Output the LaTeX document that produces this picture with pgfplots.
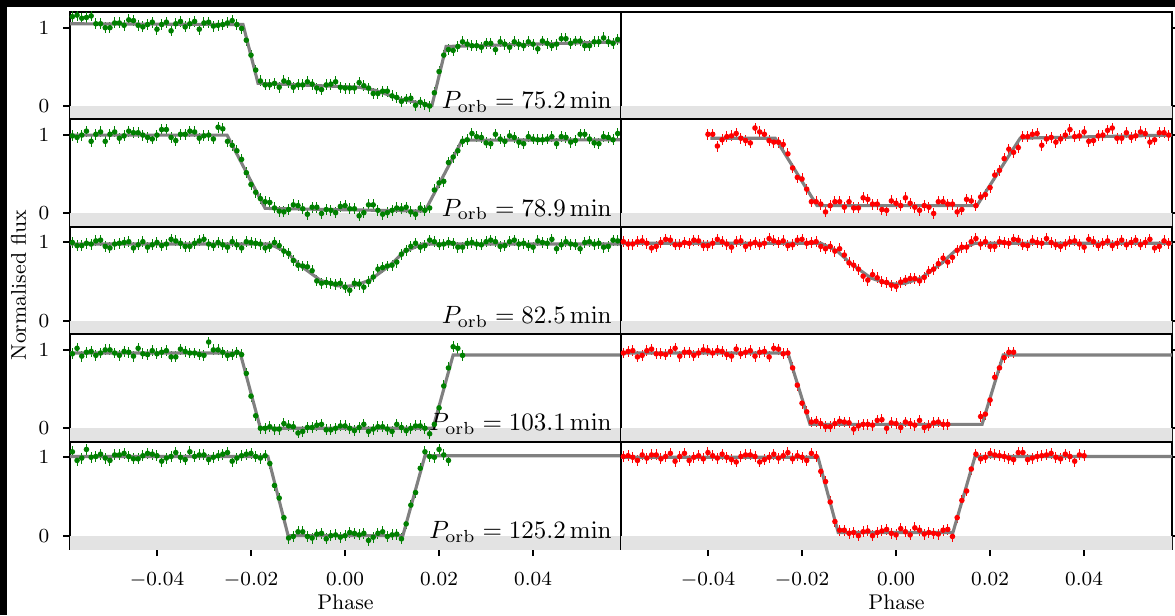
\documentclass[border=0pt]{standalone}
\usepackage{pgfplots}
\pgfplotsset{compat=1.18}
\usepackage{pgfplotstable}

% phase-folded light curves, one column per panel (nan = no data)
% A-E: left column (rows 1-5), F-I: right column (rows 2-5)
\pgfplotstableread{
x       A     B     C     D     E     F     G     H     I
-0.058  1.14  0.99  1.00  0.95  1.07  nan   1.01  0.96  1.01
-0.056  1.12  1.00  0.96  0.92  0.99  nan   0.98  0.99  1.00
-0.054  1.15  0.92  0.98  0.98  1.00  nan   1.02  0.93  1.03
-0.052  1.05  1.04  1.03  0.96  1.04  nan   0.93  1.01  1.03
-0.050  1.00  1.01  0.93  1.00  0.96  nan   1.00  0.95  0.98
-0.048  1.06  0.96  0.99  0.93  1.03  nan   1.03  0.98  1.05
-0.046  1.10  1.05  1.01  0.97  1.01  nan   0.97  0.92  1.01
-0.044  1.03  1.03  0.97  1.02  0.98  nan   0.99  0.97  0.96
-0.042  1.04  0.97  0.94  0.94  1.05  nan   1.02  0.96  1.02
-0.040  0.98  1.00  1.00  0.95  1.02  1.01  0.96  0.99  1.06
-0.038  1.07  1.07  0.98  0.99  0.99  0.86  1.04  0.99  0.99
-0.036  1.05  0.93  1.02  0.91  1.06  0.98  0.98  0.94  1.00
-0.034  1.01  1.01  0.95  0.98  0.97  1.02  1.01  1.01  0.94
-0.032  1.08  1.04  0.99  0.96  1.01  0.93  0.95  0.97  1.03
-0.030  1.06  0.99  1.04  0.93  1.03  1.09  1.00  0.92  1.01
-0.028  1.02  0.95  0.96  1.00  1.00  1.01  0.99  0.98  0.97
-0.026  1.04  1.08  0.97  0.97  1.04  0.91  1.02  1.02  1.04
-0.024  1.09  0.87  1.01  0.94  0.95  0.88  1.02  0.95  1.02
-0.022  0.99  0.69  0.93  0.94  1.02  0.58  0.97  0.77  0.98
-0.020  0.65  0.37  1.00  0.41  1.05  0.44  1.04  0.32  1.00
-0.018  0.32  0.19  0.98  0.00  0.99  0.15  1.00  0.08  1.05
-0.016  0.27  0.14  0.95  0.02  0.92  0.12  0.95  0.06  0.82
-0.014  0.24  0.03  0.96  -0.01 0.48  0.10  0.95  0.02  0.43
-0.012  0.30  0.05  0.86  0.03  -0.03 0.15  0.92  0.09  0.07
-0.010  0.27  0.10  0.71  -0.06 0.05  0.15  0.74  0.07  0.03
-0.008  0.31  -0.01 0.69  0.01  -0.01 0.07  0.66  0.03  0.00
-0.006  0.23  0.08  0.51  0.04  0.02  0.18  0.52  0.05  0.06
-0.004  0.27  0.05  0.49  -0.02 -0.04 0.12  0.55  0.10  0.04
-0.002  0.31  0.01  0.47  0.00  0.01  0.04  0.49  0.00  0.08
0.000   0.23  0.10  0.43  0.03  0.00  0.13  0.44  0.06  0.01
0.002   0.23  0.06  0.48  -0.03 0.03  0.20  0.52  0.08  0.05
0.004   0.26  0.01  0.43  0.05  0.03  0.08  0.54  0.04  0.10
0.006   0.16  0.11  0.56  -0.01 -0.02 0.10  0.555 0.01  0.02
0.008   0.19  -0.01 0.68  0.02  0.05  0.00  0.66  0.07  0.03
0.010   0.13  0.04  0.71  -0.04 0.01  0.15  0.80  0.05  0.07
0.012   0.06  0.06  0.85  0.01  -0.04 0.12  0.81  nan   -0.01
0.014   0.10  0.02  0.95  0.00  0.39  0.05  0.94  nan   0.45
0.016   0.05  0.07  0.94  0.03  0.86  0.16  1.01  nan   0.85
0.018   0.00  0.07  1.03  -0.07 1.01  0.21  0.98  0.15  0.98
0.020   0.44  0.39  0.97  0.26  1.10  0.33  0.95  0.36  1.05
0.022   0.72  0.65  1.00  0.77  0.96  0.55  1.01  0.77  1.02
0.024   0.76  0.80  0.94  1.02  nan   0.82  0.99  0.97  0.99
0.026   0.79  0.94  0.99  nan   nan   0.84  1.03  nan   1.06
0.028   0.77  0.98  0.98  nan   nan   0.98  0.96  nan   0.97
0.030   0.80  0.90  1.01  nan   nan   1.02  1.00  nan   1.01
0.032   0.72  1.01  1.01  nan   nan   0.95  1.05  nan   1.03
0.034   0.79  0.92  0.96  nan   nan   0.91  0.97  nan   1.00
0.036   0.82  0.97  1.03  nan   nan   1.00  0.98  nan   1.04
0.038   0.77  0.89  0.99  nan   nan   0.98  1.02  nan   0.95
0.040   0.79  0.95  0.94  nan   nan   1.04  0.94  nan   1.02
0.042   0.83  0.94  1.00  nan   nan   0.93  1.01  nan   nan
0.044   0.77  0.98  1.04  nan   nan   1.00  0.99  nan   nan
0.046   0.86  0.98  0.97  nan   nan   1.09  0.96  nan   nan
0.048   0.80  0.91  0.98  nan   nan   0.96  1.03  nan   nan
0.050   0.83  1.01  0.92  nan   nan   0.97  1.00  nan   nan
0.052   0.77  0.95  1.01  nan   nan   1.04  0.97  nan   nan
0.054   0.82  0.89  0.99  nan   nan   0.91  1.04  nan   nan
0.056   0.82  0.97  0.95  nan   nan   1.03  0.95  nan   nan
0.058   0.85  1.02  1.02  nan   nan   1.00  0.99  nan   nan
}\lc

% interleaved points (odd phase bins)
\pgfplotstableread{
x       A     B     C     D     E     F     G     H     I
-0.057  1.16  0.97  0.96  1.02  0.96  nan   0.98  0.98  1.02
-0.055  1.13  1.05  0.99  0.97  1.10  nan   1.01  0.91  0.96
-0.053  1.05  1.01  1.02  0.93  1.01  nan   0.99  0.99  0.99
-0.051  1.00  0.92  0.95  1.00  0.99  nan   0.95  0.95  1.03
-0.049  1.06  1.04  0.98  0.96  1.03  nan   1.04  0.94  1.01
-0.047  1.03  0.99  1.00  0.98  1.05  nan   0.97  1.02  0.95
-0.045  1.09  1.03  0.93  0.92  0.98  nan   1.00  0.97  1.05
-0.043  1.01  1.00  1.01  0.95  1.02  nan   1.03  0.93  1.00
-0.041  1.07  0.95  0.97  0.99  1.04  nan   0.96  1.00  0.98
-0.039  1.04  1.07  0.96  0.97  0.95  1.01  0.99  0.96  1.02
-0.037  0.96  0.97  1.04  0.91  1.01  0.94  1.01  0.98  1.04
-0.035  1.08  1.01  0.99  1.01  1.00  0.99  0.94  0.92  0.97
-0.033  1.05  1.05  0.95  0.96  1.07  0.96  1.02  0.95  1.01
-0.031  0.98  0.96  1.02  0.94  1.03  0.90  0.98  0.99  1.03
-0.029  1.07  1.00  0.98  1.10  0.97  1.04  0.97  0.97  0.94
-0.027  1.03  1.10  1.00  1.00  1.02  0.93  1.05  0.91  1.00
-0.025  1.06  0.92  0.94  0.93  1.06  0.91  1.00  1.01  0.99
-0.023  1.04  0.80  0.97  0.97  0.99  0.76  0.96  0.96  1.06
-0.021  0.84  0.52  1.01  0.70  1.04  0.46  1.03  0.55  1.02
-0.019  0.46  0.27  0.99  0.16  1.01  0.31  0.99  0.21  0.96
-0.017  0.27  0.15  0.93  0.00  1.02  0.15  1.01  0.09  1.01
-0.015  0.29  0.07  1.00  -0.01 0.64  0.02  0.92  0.02  0.69
-0.013  0.32  0.02  0.89  0.06  0.23  0.15  0.89  0.06  0.18
-0.011  0.24  0.11  0.77  0.02  -0.01 0.08  0.84  0.08  0.07
-0.009  0.27  0.06  0.70  -0.04 0.05  0.07  0.71  -0.01 0.04
-0.007  0.28  0.08  0.64  0.01  -0.03 0.20  0.57  0.05  0.05
-0.005  0.21  0.00  0.48  0.05  0.03  0.12  0.59  0.04  0.00
-0.003  0.28  0.04  0.48  -0.02 0.00  0.05  0.50  0.11  0.06
-0.001  0.24  0.09  0.48  0.03  -0.02 0.16  0.455 0.07  0.03
0.001   0.23  0.06  0.39  0.00  0.04  0.10  0.495 0.01  0.09
0.003   0.30  -0.03 0.47  0.01  0.01  0.13  0.54  0.06  0.01
0.005   0.23  0.11  0.50  -0.04 -0.06 0.04  0.51  0.10  0.07
0.007   0.16  0.04  0.66  0.02  0.03  0.08  0.63  0.03  0.04
0.009   0.19  0.01  0.70  -0.01 -0.01 0.15  0.73  0.08  0.02
0.011   0.11  0.07  0.75  0.05  0.02  0.12  0.75  0.05  0.08
0.013   0.09  0.08  0.90  -0.03 0.15  0.02  0.90  nan   0.23
0.015   0.01  -0.01 0.99  0.03  0.55  0.18  0.94  nan   0.57
0.017   0.02  0.04  0.96  0.00  1.07  0.10  1.05  nan   1.04
0.019   0.17  0.30  1.01  0.05  1.00  0.24  1.01  0.18  1.00
0.021   0.65  0.41  0.98  0.54  1.03  0.49  0.95  0.65  1.03
0.023   0.71  0.72  0.99  1.04  nan   0.70  1.00  0.90  1.01
0.025   0.82  0.92  0.94  0.93  nan   0.78  1.04  0.97  0.97
0.027   0.77  1.02  1.00  nan   nan   0.98  0.97  nan   1.06
0.029   0.75  0.97  0.97  nan   nan   1.01  1.02  nan   0.99
0.031   0.80  0.89  1.03  nan   nan   0.87  0.99  nan   1.02
0.033   0.82  0.95  0.95  nan   nan   0.97  1.00  nan   1.05
0.035   0.75  0.99  1.01  nan   nan   0.95  0.95  nan   0.98
0.037   0.79  0.91  0.98  nan   nan   1.07  1.01  nan   1.01
0.039   0.82  0.98  0.96  nan   nan   0.99  0.98  nan   1.03
0.041   0.73  0.94  1.02  nan   nan   0.92  1.04  nan   nan
0.043   0.80  0.95  0.99  nan   nan   0.99  0.96  nan   nan
0.045   0.79  0.89  0.92  nan   nan   1.06  1.02  nan   nan
0.047   0.86  0.97  1.01  nan   nan   0.96  0.99  nan   nan
0.049   0.83  0.93  0.97  nan   nan   1.03  0.97  nan   nan
0.051   0.77  1.01  1.00  nan   nan   0.99  1.03  nan   nan
0.053   0.82  0.90  0.98  nan   nan   1.02  1.00  nan   nan
0.055   0.87  0.98  0.94  nan   nan   0.94  0.93  nan   nan
0.057   0.80  0.94  1.03  nan   nan   1.03  1.02  nan   nan
}\lcb

\definecolor{mgreen}{RGB}{0,128,0}
\definecolor{mred}{RGB}{255,0,0}
\definecolor{mgray}{RGB}{128,128,128}
\definecolor{band}{RGB}{227,227,227}

\pgfplotsset{
  lcpanel/.style={
    scale only axis, width=220.4pt, height=42.96pt,
    anchor=south west,
    xmin=-0.0585, xmax=0.0587, ymin=-0.17, ymax=1.2,
    axis line style={line width=0.8pt},
    tick align=outside, major tick length=2.8pt,
    every tick/.style={black, line width=0.8pt},
    ytick={0,1}, xtick=\empty,
    tick label style={font=\footnotesize},
  },
  leftcol/.style={ytick pos=left, yticklabel style={xshift=-2pt}},
  rightcol/.style={ytick pos=right, yticklabels={}},
  bottomrow/.style={
    xtick={-0.04,-0.02,0,0.02,0.04}, xtick pos=bottom,
    scaled x ticks=false,
    xticklabel={\pgfmathprintnumber[fixed,fixed zerofill,precision=2]{\tick}},
    xticklabel style={yshift=-3.3pt},
  },
  lcdata/.style={only marks, mark=*, mark size=0.85pt, line width=0.5pt,
    error bars/y dir=both, error bars/y fixed=0.07, error bars/error mark=none},
  lcmodel/.style={mgray, line width=1.25pt, no marks},
}

\newcommand{\band}{\fill[band] (axis cs:-0.07,-0.3) rectangle (axis cs:0.07,0);}
\newcommand{\porb}[1]{\node[anchor=base east, inner sep=0pt] at (rel axis cs:0.984,0.1) {$P_\mathrm{orb} = #1\,\mathrm{min}$};}
\newcommand{\lcpoints}[2]{%
  \addplot[#1, lcdata] table[x=x, y=#2] {\lc};
  \addplot[#1, lcdata] table[x=x, y=#2] {\lcb};}

\begin{document}
\begin{tikzpicture}
\useasboundingbox (0,0) rectangle (470pt,246pt);
\fill[black] (0,0) rectangle (2.6pt,246pt);
\fill[black] (0,243.2pt) rectangle (470pt,246pt);

% ---- row 1
\begin{axis}[lcpanel, leftcol, at={(28pt,198.24pt)}]
\band
\lcpoints{mgreen}{A}
\addplot[lcmodel] coordinates {(-0.0585,1.05) (-0.0217,1.04) (-0.0185,0.29) (0.003,0.24) (0.0065,0.20) (0.0117,0.09) (0.0185,0.01) (0.0215,0.76) (0.0587,0.82)};
\porb{75.2}
\end{axis}
\begin{axis}[lcpanel, rightcol, at={(248.4pt,198.24pt)}]
\band
\end{axis}

% ---- row 2
\begin{axis}[lcpanel, leftcol, at={(28pt,155.28pt)}]
\band
\lcpoints{mgreen}{B}
\addplot[lcmodel] coordinates {(-0.0585,1.0) (-0.0251,1.0) (-0.0170,0.065) (0.0170,0.03) (0.0249,0.935) (0.0587,0.94)};
\porb{78.9}
\end{axis}
\begin{axis}[lcpanel, rightcol, at={(248.4pt,155.28pt)}]
\band
\lcpoints{mred}{F}
\addplot[lcmodel] coordinates {(-0.0395,0.96) (-0.0257,0.96) (-0.0168,0.10) (0.0172,0.10) (0.0264,0.96) (0.0587,1.0)};
\end{axis}

% ---- row 3
\begin{axis}[lcpanel, leftcol, at={(28pt,112.32pt)}]
\band
\lcpoints{mgreen}{C}
\addplot[lcmodel] coordinates {(-0.0585,0.98) (-0.016,0.98) (-0.0125,0.88) (-0.0096,0.71) (-0.0053,0.52) (-0.002,0.45) (0,0.44) (0.002,0.45) (0.0053,0.52) (0.0096,0.71) (0.0125,0.88) (0.0165,0.98) (0.0587,0.98)};
\porb{82.5}
\end{axis}
\begin{axis}[lcpanel, rightcol, at={(248.4pt,112.32pt)}]
\band
\lcpoints{mred}{G}
\addplot[lcmodel] coordinates {(-0.0585,0.99) (-0.016,0.99) (-0.0125,0.89) (-0.0096,0.73) (-0.0053,0.545) (-0.002,0.48) (0,0.47) (0.002,0.48) (0.0053,0.545) (0.0096,0.73) (0.0125,0.89) (0.0168,0.99) (0.0587,0.99)};
\end{axis}

% ---- row 4
\begin{axis}[lcpanel, leftcol, at={(28pt,69.36pt)}]
\band
\lcpoints{mgreen}{D}
\addplot[lcmodel] coordinates {(-0.0585,0.96) (-0.0223,0.96) (-0.018,0.0) (0.0187,0.0) (0.023,0.935) (0.0587,0.935)};
\porb{103.1}
\end{axis}
\begin{axis}[lcpanel, rightcol, at={(248.4pt,69.36pt)}]
\band
\lcpoints{mred}{H}
\addplot[lcmodel] coordinates {(-0.0585,0.96) (-0.0230,0.96) (-0.0183,0.05) (0.0183,0.05) (0.0228,0.935) (0.0587,0.935)};
\end{axis}

% ---- row 5
\begin{axis}[lcpanel, leftcol, bottomrow, at={(28pt,26.4pt)}]
\band
\lcpoints{mgreen}{E}
\addplot[lcmodel] coordinates {(-0.0585,1.01) (-0.0164,1.01) (-0.0121,0.0) (0.0123,0.0) (0.0170,1.02) (0.0587,1.02)};
\porb{125.2}
\end{axis}
\begin{axis}[lcpanel, rightcol, bottomrow, at={(248.4pt,26.4pt)}]
\band
\lcpoints{mred}{I}
\addplot[lcmodel] coordinates {(-0.0585,1.0) (-0.0166,1.0) (-0.0123,0.04) (0.0121,0.04) (0.0168,1.01) (0.0587,1.01)};
\end{axis}

\node[font=\fontsize{8.5}{10}\selectfont] at (138.2pt,5.2pt) {Phase};
\node[font=\fontsize{8.5}{10}\selectfont] at (358.6pt,5.2pt) {Phase};
\node[font=\fontsize{8.5}{10}\selectfont, rotate=90] at (7.4pt,132pt) {Normalised flux};
\end{tikzpicture}
\end{document}
